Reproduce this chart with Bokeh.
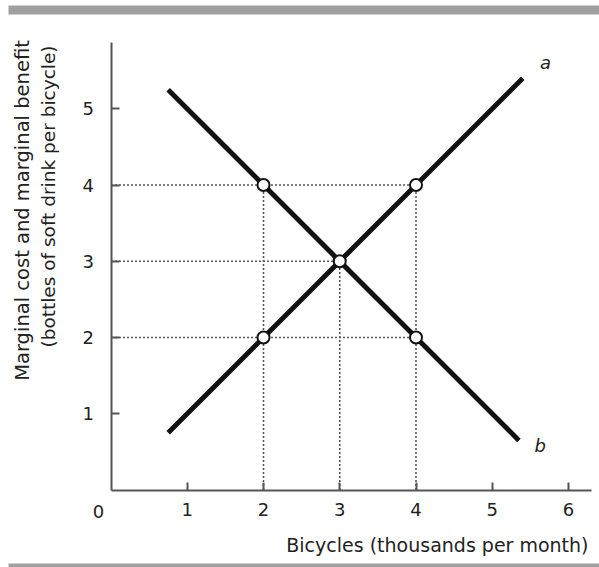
from bokeh.plotting import figure
from bokeh.models import Label, FixedTicker, Range1d
from bokeh.embed import file_html
from bokeh.resources import INLINE
import math

# ---- data ----
line_a_x = [0.75, 5.4]
line_a_y = [0.75, 5.4]
line_b_x = [0.75, 5.35]
line_b_y = [5.25, 0.65]
point_x = [2, 4, 3, 2, 4]
point_y = [4, 4, 3, 2, 2]
x_ticks = [1, 2, 3, 4, 5, 6]
y_ticks = [1, 2, 3, 4, 5]
x_title = "Bicycles (thousands per month)"
y_title_1 = "Marginal cost and marginal benefit"
y_title_2 = "(bottles of soft drink per bicycle)"
curve_names = ["a", "b"]

FONT = "DejaVu Sans"
W, H = 599, 567
UNIT = 76.25            # pixels per data unit
OX, OY = 110.5, 489.5   # origin in canvas pixels


def dx(cx):
    return (cx - OX) / UNIT


def dy(cy):
    return (OY - cy) / UNIT


p = figure(width=W, height=H, output_backend="svg", toolbar_location=None,
           x_range=Range1d(dx(0), dx(W)), y_range=Range1d(dy(H), dy(0)),
           min_border=0)
p.outline_line_color = None
p.grid.visible = False
p.background_fill_color = "white"
p.border_fill_color = "white"

X_END, Y_END = 6.3, 5.87
for ax, ticks, standoff, bnd in ((p.xaxis[0], x_ticks, 13, (0, X_END)),
                                  (p.yaxis[0], y_ticks, 17, (0, Y_END))):
    ax.fixed_location = 0
    ax.bounds = bnd
    ax.ticker = FixedTicker(ticks=ticks)
    ax.axis_line_color = "#555555"
    ax.axis_line_width = 2
    ax.major_tick_line_color = "#555555"
    ax.major_tick_line_width = 2
    ax.major_tick_in = 8
    ax.major_tick_out = 0
    ax.minor_tick_line_color = None
    ax.major_label_text_font = FONT
    ax.major_label_text_font_size = "18px"
    ax.major_label_text_color = "#222222"
    ax.major_label_standoff = standoff

# decorative grey rules at the top and bottom of the figure
p.quad(left=[dx(8)], right=[dx(W)], top=[dy(5)], bottom=[dy(14)],
       fill_color="#a0a0a0", line_color=None)
p.quad(left=[dx(8)], right=[dx(W)], top=[dy(563)], bottom=[dy(H)],
       fill_color="#a0a0a0", line_color=None)

# dotted guide lines derived from the points
h_y, h_x1, v_x, v_y1 = [], [], [], []
for yv in sorted(set(point_y)):
    h_y.append(yv)
    h_x1.append(max(px for px, py in zip(point_x, point_y) if py == yv))
for xv in sorted(set(point_x)):
    v_x.append(xv)
    v_y1.append(max(py for px, py in zip(point_x, point_y) if px == xv))

p.segment(x0=[0] * len(h_y), y0=h_y, x1=h_x1, y1=h_y,
          line_color="#555555", line_width=1.6, line_dash="2 2")
p.segment(x0=v_x, y0=[0] * len(v_x), x1=v_x, y1=v_y1,
          line_color="#555555", line_width=1.6, line_dash="2 2")

p.line(line_a_x, line_a_y, line_color="#111111", line_width=5)
p.line(line_b_x, line_b_y, line_color="#111111", line_width=5)

p.scatter(point_x, point_y, size=12, marker="circle", fill_color="white",
          line_color="#111111", line_width=2)


def lab(x, y, text, **kw):
    d = dict(x=x, y=y, text=text, text_font=FONT, text_font_size="19px",
             text_color="#222222", text_align="center", text_baseline="middle")
    d.update(kw)
    p.add_layout(Label(**d))


lab(line_a_x[-1] + 0.3, line_a_y[-1] + 0.21, curve_names[0],
    text_font_style="italic", text_font_size="18px")
lab(line_b_x[-1] + 0.28, line_b_y[-1] - 0.07, curve_names[1],
    text_font_style="italic", text_font_size="18px")
lab(dx(98), dy(511), "0", text_font_size="18px")
lab(dx(588), dy(544), x_title, text_align="right")
lab(dx(22), dy(210), y_title_1, angle=math.pi / 2, text_font_size="19.5px")
lab(dx(48), dy(196), y_title_2, angle=math.pi / 2, text_font_size="18.5px")

open("out.html", "w").write(file_html(p, INLINE))
